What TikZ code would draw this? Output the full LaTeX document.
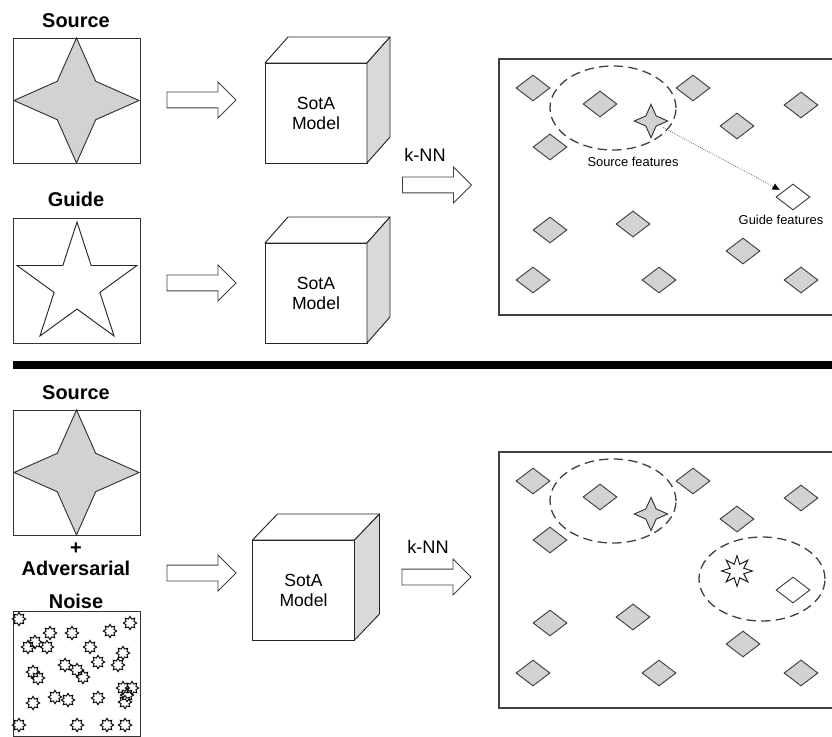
\documentclass[tikz,border=0pt]{standalone}
\usepackage{fontspec}
\setmainfont{Liberation Sans}
\usetikzlibrary{shapes.geometric, shapes.arrows, arrows.meta, positioning, calc}

\begin{document}
\begin{tikzpicture}[
    x=0.03cm,
    y=-0.03cm,
    font=\fontsize{15}{17}\selectfont,
    framebox/.style={draw=black!80, line width=0.8pt, minimum width=3.81cm, minimum height=3.75cm, inner sep=0pt},
    headlabel/.style={font=\fontsize{17}{19}\selectfont\bfseries, anchor=base, inner sep=0pt},
    blockarrow/.style={single arrow, draw=black!75, line width=0.7pt, fill=white, minimum height=2.07cm,
        inner xsep=0pt, inner ysep=0.225cm, single arrow head extend=0.3cm},
    cubefront/.style={draw=black!85, line width=0.8pt, minimum width=3.06cm, minimum height=3cm,
        align=center, inner sep=0pt, outer sep=0pt},
    cubeside/.style={draw=black!85, line width=0.8pt, fill=gray!30, line join=round},
    space/.style={draw=black!75, line width=0.9pt},
    feat/.style={diamond, draw=black!75, line width=0.8pt, fill=gray!35, minimum width=1.02cm,
        minimum height=0.78cm, inner sep=0pt},
    guidefeat/.style={feat, fill=white},
    cluster/.style={ellipse, draw=black!75, line width=1.1pt, dash pattern=on 8pt off 4.5pt,
        minimum width=3.78cm, minimum height=2.52cm, inner sep=0pt},
    srcstar/.style={star, star points=4, star point ratio=2.3, draw=black!80, line width=0.8pt,
        fill=gray!35, inner sep=0pt},
    noisestar/.style={star, star points=8, star point ratio=1.55, draw=black, line width=0.8pt,
        minimum size=0.4cm, inner sep=0pt},
    featlabel/.style={font=\fontsize{11}{13}\selectfont, anchor=base, inner sep=0pt}
]
    \useasboundingbox (0,0) rectangle (832,737);

    % --- Inputs (top) ---
    \node[headlabel] (srclab1) at (76,28) {Source};
    \node[framebox] (src1) at (76.5,100.5) {};
    \node[srcstar, minimum size=3.75cm] (srcstar1) at (76.5,100.5) {};

    \node[headlabel] (guidelab) at (76,207) {Guide};
    \node[framebox] (guide) at (76.5,281) {};
    \node[star, star points=5, star point ratio=2.618, draw=black!85, line width=0.8pt,
        minimum size=3.78cm, inner sep=0pt] (guidestar) at (77,285) {};

    % --- Inputs (bottom) ---
    \node[headlabel] (srclab2) at (76,400) {Source};
    \node[framebox] (src2) at (76.5,472.5) {};
    \node[srcstar, minimum size=3.75cm] (srcstar2) at (76.5,472.5) {};
    \node[headlabel, anchor=center] (plus) at (76,549) {+};
    \node[headlabel] (advlab) at (76,575) {Adversarial};
    \node[headlabel] (noiselab) at (76,608) {Noise};
    \node[framebox] (noise) at (76.5,673.5) {};
    \foreach \nx/\ny [count=\i] in {19/619, 130/623, 50/633, 72/633, 110/631, 35/642, 28/647,
        47/647, 90/647, 123/653, 98/662, 118/665, 65/665, 33/672, 77/670, 83/677, 38/678,
        123/688, 132/688, 127/695, 55/697, 68/700, 98/698, 33/703, 125/702, 19/725, 77/725,
        107/725, 125/725}
        \node[noisestar] (n\i) at (\nx,\ny) {};

    % --- Block arrows ---
    \node[blockarrow] (ar1) at (197.5,100) {};
    \node[blockarrow] (ar2) at (197.5,283) {};
    \node[blockarrow] (ar3) at (433,185) {};
    \node[blockarrow] (ar4) at (197.5,573) {};
    \node[blockarrow] (ar5) at (432.5,577) {};
    \node[anchor=base, font=\fontsize{15.5}{17}\selectfont] (knn1) at (425,162) {k-NN};
    \node[anchor=base, font=\fontsize{15.5}{17}\selectfont] (knn2) at (428,553) {k-NN};

    % --- Models ---
    \foreach \nm/\mx/\my/\dx in {m1/316/113/23, m2/316/293/23, m3/303.5/590/25} {
        \node[cubefront] (\nm) at (\mx,\my) {SotA\\Model};
        \draw[cubeside, fill=white] (\nm.north west) -- ++(\dx,-26) -- ++(102,0) -- (\nm.north east) -- cycle;
        \draw[cubeside] (\nm.north east) -- ++(\dx,-26) -- ++(0,100) -- (\nm.south east) -- cycle;
    }

    % --- Feature spaces ---
    \foreach \yo/\p in {0/a, 393/b} {
        \begin{scope}[shift={(0,\yo)}]
            \draw[space] (499,59) rectangle (840,315);
            \foreach \fx/\fy [count=\i] in {533/88, 600/104, 693/88, 801/105, 737/126, 550/147,
                550/230, 633/224, 743/251, 533/280, 659/280, 801/280}
                \node[feat] (\p d\i) at (\fx,\fy) {};
            \node[cluster] (\p e) at (613,108) {};
            \node[srcstar, star point ratio=2.3, minimum size=1.0cm] (\p s) at (651,121) {};
            \node[guidefeat] (\p g) at (793,197) {};
        \end{scope}
    }

    % top: source / guide features
    \node[featlabel] (asl) at (633,167) {Source features};
    \node[featlabel] (agl) at (781,225) {Guide features};
    \draw[densely dotted, draw=black!55, line width=0.7pt, shorten <=4pt, shorten >=3pt,
        -{Triangle[length=6pt, width=5.5pt, color=black]}] (as) -- (ag);

    % bottom: perturbed source lands near guide
    \node[cluster] (be2) at (762,579) {};
    \node[star, star points=8, star point ratio=2.1, draw=black!90, line width=0.8pt,
        minimum size=0.92cm, inner sep=0pt] (bn) at (737,571) {};

    % --- Separator ---
    \draw[line width=6.8pt] (13,365) -- (840,365);
\end{tikzpicture}
\end{document}
